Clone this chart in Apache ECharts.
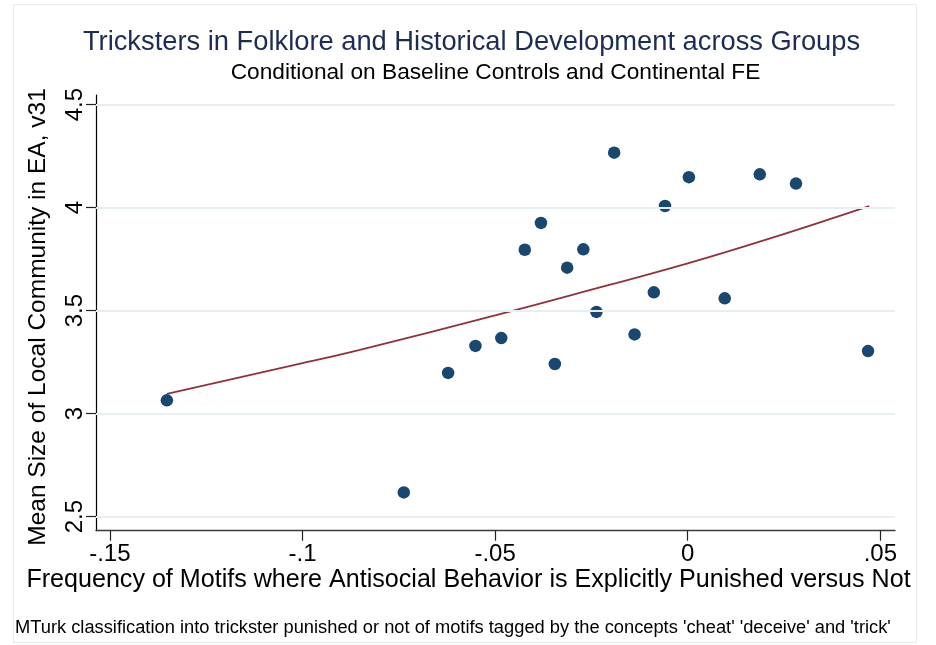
<!DOCTYPE html>
<html>
<head>
<meta charset="utf-8">
<script src="https://cdn.jsdelivr.net/npm/echarts@6/dist/echarts.min.js"></script>
<style>html,body{margin:0;padding:0;background:#fff}#c{width:936px;height:645px}</style>
</head>
<body>
<div id="c"></div>
<script>
// Scatter points: x = frequency of motifs punished vs not, y = mean local community size
const pointX = [-0.1352, -0.0737, -0.0622, -0.0551, -0.0484, -0.0423, -0.0381, -0.0345, -0.0313, -0.0271,
                -0.0237, -0.0191, -0.0138, -0.0088, -0.0059, 0.0003, 0.0096, 0.0187, 0.0281, 0.0468];
const pointY = [3.065, 2.618, 3.198, 3.329, 3.367, 3.796, 3.926, 3.241, 3.709, 3.798,
                3.494, 4.267, 3.385, 3.589, 4.008, 4.148, 3.560, 4.162, 4.117, 3.304];
// Fitted curve
const fitX = [-0.1352, -0.1, -0.0851, -0.05, -0.0297, 0, 0.0222, 0.0471];
const fitY = [3.096, 3.245, 3.310, 3.477, 3.578, 3.730, 3.856, 4.008];
// Tick values / labels
const xTicks = [-0.15, -0.1, -0.05, 0, 0.05];
const xTickLabels = ['-.15', '-.1', '-.05', '0', '.05'];
const yTicks = [2.5, 3, 3.5, 4, 4.5];
const yTickLabels = ['2.5', '3', '3.5', '4', '4.5'];

const titleText = 'Tricksters in Folklore and Historical Development across Groups';
const subtitleText = 'Conditional on Baseline Controls and Continental FE';
const xName = 'Frequency of Motifs where Antisocial Behavior is Explicitly Punished versus Not';
const yName = 'Mean Size of Local Community in EA, v31';
const noteText = "MTurk classification into trickster punished or not of motifs tagged by the concepts 'cheat' 'deceive' and 'trick'";

const FONT = '"Liberation Sans", Arial, Helvetica, sans-serif';
const chart = echarts.init(document.getElementById('c'), null, {renderer: 'canvas'});

function lab(list, labels) {
  return function (v) {
    for (let i = 0; i < list.length; i++) if (Math.abs(list[i] - v) < 1e-9) return labels[i];
    return '';
  };
}

chart.setOption({
  animation: false,
  backgroundColor: '#ffffff',
  textStyle: {fontFamily: FONT},
  grid: {left: 96, right: 41, top: 95, bottom: 114.3, containLabel: false, outerBoundsMode: 'none'},
  xAxis: {
    type: 'value', min: -0.1536, max: 0.0538,
    axisLine: {show: true, onZero: false, lineStyle: {color: '#3a3a3a', width: 1.3}},
    axisTick: {show: true, length: 10, inside: false, customValues: xTicks, lineStyle: {color: '#222', width: 1.2}},
    axisLabel: {show: true, customValues: xTicks, formatter: lab(xTicks, xTickLabels), fontSize: 24, color: '#000', margin: 12, fontFamily: FONT},
    splitLine: {show: false}
  },
  yAxis: {
    type: 'value', min: 2.432, max: 4.547,
    axisLine: {show: true, onZero: false, lineStyle: {color: '#000', width: 1.2}},
    axisTick: {show: true, length: 10, inside: false, customValues: yTicks, lineStyle: {color: '#222', width: 1.2}},
    axisLabel: {show: true, customValues: yTicks, formatter: lab(yTicks, yTickLabels), rotate: 90, fontSize: 24, color: '#000', margin: 9, fontFamily: FONT},
    splitLine: {show: false}
  },
  series: [
    {
      type: 'scatter', data: [], silent: true, z: 1,
      markLine: {
        silent: true, symbol: ['none', 'none'], animation: false,
        label: {show: false},
        lineStyle: {color: '#e8eff3', width: 2, type: 'solid'},
        data: yTicks.map(v => ({yAxis: v}))
      }
    },
    {
      type: 'line', z: 3, smooth: 0.4, showSymbol: false, symbol: 'none',
      lineStyle: {color: '#91323a', width: 1.8, cap: 'butt'},
      emphasis: {disabled: true},
      data: fitX.map((x, i) => [x, fitY[i]])
    },
    {
      type: 'scatter', z: 4, symbol: 'circle', symbolSize: 12.5,
      itemStyle: {color: '#1a476f', opacity: 1},
      data: pointX.map((x, i) => [x, pointY[i]])
    }
  ],
  graphic: [
    {type: 'rect', silent: true, z: 0, shape: {x: 13.5, y: 4.5, width: 903, height: 638},
     style: {fill: 'none', stroke: '#e3edf0', lineWidth: 1}},
    {type: 'text', silent: true, x: 471.5, y: 42.3,
     style: {text: titleText, font: '27.3px ' + FONT, fill: '#1c2c52', textAlign: 'center', textVerticalAlign: 'middle'}},
    {type: 'text', silent: true, x: 495.5, y: 73,
     style: {text: subtitleText, font: '22.7px ' + FONT, fill: '#000', textAlign: 'center', textVerticalAlign: 'middle'}},
    {type: 'text', silent: true, x: 468.5, y: 579.6,
     style: {text: xName, font: '25.1px ' + FONT, fill: '#000', textAlign: 'center', textVerticalAlign: 'middle'}},
    {type: 'text', silent: true, x: 38.3, y: 317, rotation: Math.PI / 2,
     style: {text: yName, font: '24.5px ' + FONT, fill: '#000', textAlign: 'center', textVerticalAlign: 'middle'}},
    {type: 'text', silent: true, x: 15, y: 628,
     style: {text: noteText, font: '18.3px ' + FONT, fill: '#000', textAlign: 'left', textVerticalAlign: 'middle'}}
  ]
});
</script>
</body>
</html>
